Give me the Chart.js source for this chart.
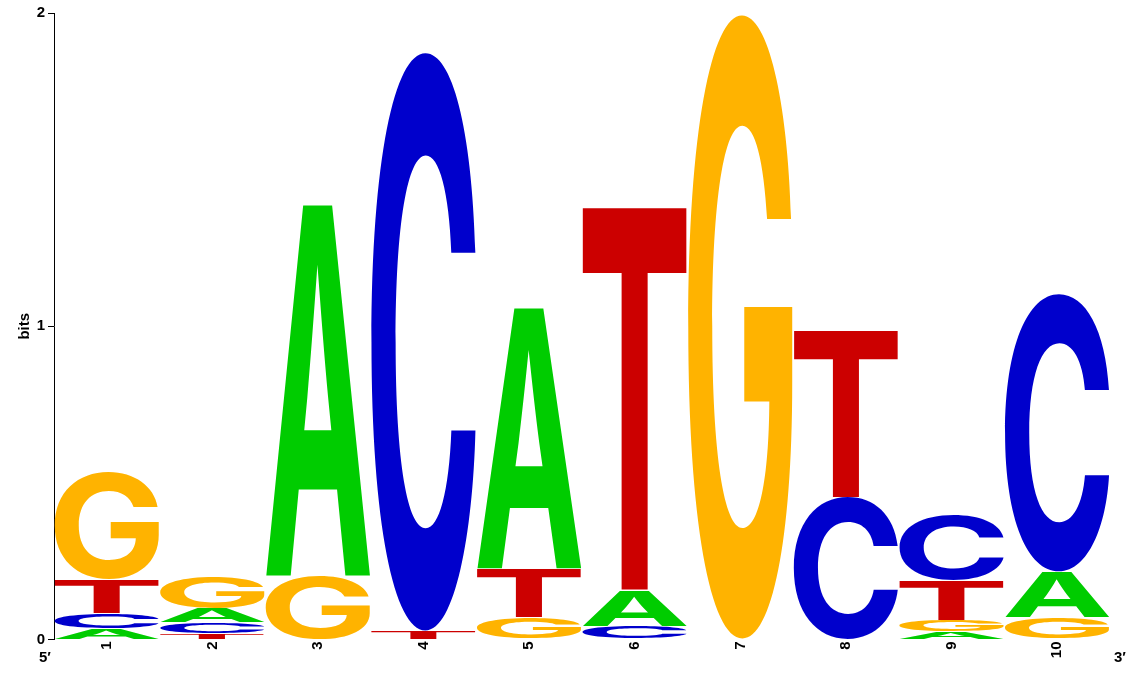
<!DOCTYPE html>
<html>
<head>
<meta charset="utf-8">
<script src="https://cdn.jsdelivr.net/npm/chart.js@4"></script>
<style>
  html, body { margin: 0; padding: 0; background: #fff; }
  #wrap { width: 1133px; height: 680px; }
</style>
</head>
<body>
<div id="wrap"><canvas id="logo"></canvas></div>
<script>
// positions and per-letter heights (bits)
const positions = ['1', '2', '3', '4', '5', '6', '7', '8', '9', '10'];
const bitsA = [0.035, 0.045, 1.188, 0, 0.835, 0.115, 0, 0, 0.024, 0.147];
const bitsC = [0.048, 0.035, 0, 1.84, 0, 0.043, 0, 0.455, 0.208, 0.885];
const bitsG = [0.345, 0.102, 0.203, 0, 0.069, 0, 1.987, 0, 0.038, 0.069];
const bitsT = [0.109, 0.019, 0, 0.027, 0.157, 1.224, 0, 0.534, 0.128, 0];
const yTicks = [0, 1, 2];

const letterColors = { A: '#00CC00', C: '#0000CC', G: '#FFB300', T: '#CC0000' };
const FONT = '"Liberation Sans", Arial, Helvetica, sans-serif';
const GLYPH_FONT = 'Inter, "Liberation Sans", sans-serif';

// sort letters in each column, smallest at the bottom
const stacks = positions.map((p, i) => {
  return [
    { l: 'A', h: bitsA[i] }, { l: 'C', h: bitsC[i] },
    { l: 'G', h: bitsG[i] }, { l: 'T', h: bitsT[i] }
  ].filter(d => d.h > 0).sort((a, b) => a.h - b.h);
});

const datasets = [0, 1, 2, 3].map(k => ({
  label: 'level ' + k,
  data: stacks.map(s => s[k] ? s[k].h : 0),
  letters: stacks.map(s => s[k] ? s[k].l : null),
  backgroundColor: 'rgba(0,0,0,0)',
  borderWidth: 0,
  barPercentage: 0.99,
  categoryPercentage: 1.0,
  stack: 'logo'
}));

// draws each letter stretched into its bar
const glyphs = {
  id: 'glyphs',
  afterDatasetsDraw(chart) {
    const ctx = chart.ctx;
    chart.data.datasets.forEach((ds, di) => {
      const meta = chart.getDatasetMeta(di);
      meta.data.forEach((bar, i) => {
        const letter = ds.letters[i];
        if (!letter) return;
        const p = bar.getProps(['x', 'y', 'base', 'width'], true);
        let top = Math.min(p.y, p.base), h = Math.abs(p.base - p.y);
        if (h < 0.5) return;
        if (h > 3) { top += 0.4; h -= 0.8; }
        ctx.save();
        ctx.font = 'bold 200px ' + GLYPH_FONT;
        const m = ctx.measureText(letter);
        const gw = m.actualBoundingBoxLeft + m.actualBoundingBoxRight;
        const gh = m.actualBoundingBoxAscent + m.actualBoundingBoxDescent;
        ctx.translate(p.x - p.width / 2, top);
        ctx.scale(p.width / gw, h / gh);
        ctx.fillStyle = letterColors[letter];
        ctx.textBaseline = 'alphabetic';
        ctx.textAlign = 'left';
        ctx.fillText(letter, m.actualBoundingBoxLeft, m.actualBoundingBoxAscent);
        ctx.restore();
      });
    });
  },
  afterDraw(chart) {
    const ctx = chart.ctx, a = chart.chartArea;
    ctx.save();
    ctx.font = 'bold 15px ' + FONT;
    ctx.fillStyle = '#000';
    ctx.textAlign = 'center';
    ctx.textBaseline = 'middle';
    ctx.fillText('5\u2032', a.left - 9, 658);
    ctx.fillText('3\u2032', a.right + 10, 658);
    ctx.restore();
  }
};

new Chart(document.getElementById('logo'), {
  type: 'bar',
  data: { labels: positions, datasets: datasets },
  plugins: [glyphs],
  options: {
    responsive: true,
    maintainAspectRatio: false,
    animation: false,
    layout: { padding: { left: 16, right: 23, top: 13, bottom: 0 } },
    plugins: { legend: { display: false }, tooltip: { enabled: false } },
    scales: {
      x: {
        stacked: true,
        grid: { display: false, drawTicks: false, tickLength: 0 },
        border: { display: false },
        ticks: {
          maxRotation: 90, minRotation: 90, padding: 2,
          color: '#000', font: { family: FONT, size: 15, weight: 'bold' }
        },
        afterFit(scale) { scale.height = 40.5; }
      },
      y: {
        stacked: true,
        min: 0, max: 2,
        afterBuildTicks(scale) { scale.ticks = yTicks.map(v => ({ value: v })); },
        grid: { drawOnChartArea: false, drawTicks: true, tickLength: 6, color: '#000', lineWidth: 1 },
        border: { display: true, color: '#000', width: 1 },
        ticks: { padding: 3, color: '#000', font: { family: FONT, size: 15, weight: 'bold' } },
        title: {
          display: true, text: 'bits', color: '#000', padding: 0,
          font: { family: FONT, size: 15, weight: 'bold' }
        },
        afterFit(scale) { scale.width = 38; }
      }
    }
  }
});
</script>
</body>
</html>
